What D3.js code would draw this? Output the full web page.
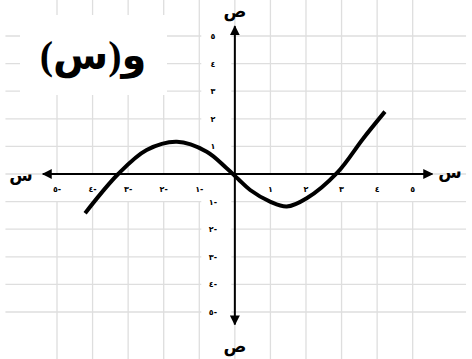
<!DOCTYPE html>
<html>
<head>
<meta charset="utf-8">
<script src="https://cdn.jsdelivr.net/npm/d3@7"></script>
<style>
  body { margin: 0; background: #fff; }
</style>
</head>
<body>
<div id="chart"></div>
<script>
// grid and tick values (-5..5 on both axes)
const gridValues = [-5, -4, -3, -2, -1, 0, 1, 2, 3, 4, 5];
const xTicks = [-5, -4, -3, -2, -1, 1, 2, 3, 4, 5];
const xTickLabels = ["٥-", "٤-", "٣-", "٢-", "١-", "١", "٢", "٣", "٤", "٥"];
const yTicks = [5, 4, 3, 2, 1, -1, -2, -3, -4, -5];
const yTickLabels = ["٥", "٤", "٣", "٢", "١", "١-", "٢-", "٣-", "٤-", "٥-"];

// curve points
const curveX = [-4.21, -3.28, -2.48, -1.63, -0.79, -0.23, 0.1, 0.43, 0.99, 1.46, 2.02, 2.88, 3.61, 4.22];
const curveY = [-1.42, 0.0, 0.87, 1.17, 0.81, 0.21, -0.19, -0.58, -1.0, -1.18, -0.88, 0.05, 1.29, 2.26];

const title = "و(س)";
const xName = "س";
const yName = "ص";

const width = 472, height = 359;

const svg = d3.select("#chart")
  .append("svg")
  .attr("width", width)
  .attr("height", height);

// scales: one grid square is ~35.6px wide and ~27.6px tall
const x = d3.scaleLinear().domain([-5, 5]).range([57, 412.7]);
const y = d3.scaleLinear().domain([-5, 5]).range([312, 36]);

// arrow head marker
svg.append("defs").append("marker")
  .attr("id", "arrow")
  .attr("viewBox", "0 0 10 10")
  .attr("refX", 9)
  .attr("refY", 5)
  .attr("markerWidth", 5)
  .attr("markerHeight", 5)
  .attr("markerUnits", "strokeWidth")
  .attr("orient", "auto-start-reverse")
  .append("path")
  .attr("d", "M0,0 L10,5 L0,10 z")
  .attr("fill", "#000");

// grid
const grid = svg.append("g").attr("stroke", "#dedede").attr("stroke-width", 1.3);
grid.selectAll("line.v")
  .data(gridValues)
  .enter().append("line")
  .attr("class", "v")
  .attr("x1", d => x(d)).attr("x2", d => x(d))
  .attr("y1", 0).attr("y2", height);
grid.selectAll("line.h")
  .data(gridValues)
  .enter().append("line")
  .attr("class", "h")
  .attr("x1", x(-6.45)).attr("x2", x(6.5))
  .attr("y1", d => y(d)).attr("y2", d => y(d));

// white patches behind the title and the tick labels
svg.append("rect")
  .attr("x", 20).attr("y", 15)
  .attr("width", 147).attr("height", 80)
  .attr("fill", "#fff");
svg.append("rect")
  .attr("x", x(-1) + 2).attr("y", 0)
  .attr("width", 30).attr("height", height)
  .attr("fill", "#fff");
svg.append("rect")
  .attr("x", 0).attr("y", y(0) + 1)
  .attr("width", width).attr("height", 26)
  .attr("fill", "#fff");

// axes with arrows at both ends
svg.append("line")
  .attr("x1", x(-5.4)).attr("x2", x(5.55))
  .attr("y1", y(0)).attr("y2", y(0))
  .attr("stroke", "#000").attr("stroke-width", 2)
  .attr("marker-start", "url(#arrow)")
  .attr("marker-end", "url(#arrow)");
svg.append("line")
  .attr("x1", x(0)).attr("x2", x(0))
  .attr("y1", y(5.35)).attr("y2", y(-5.45))
  .attr("stroke", "#000").attr("stroke-width", 2)
  .attr("marker-start", "url(#arrow)")
  .attr("marker-end", "url(#arrow)");

// tick labels
svg.selectAll("text.xt")
  .data(xTicks)
  .enter().append("text")
  .attr("class", "xt")
  .attr("x", d => x(d))
  .attr("y", y(0) + 18)
  .attr("text-anchor", "middle")
  .attr("font-family", "DejaVu Sans")
  .attr("font-size", 8)
  .attr("font-weight", "bold")
  .text((d, i) => xTickLabels[i]);

svg.selectAll("text.yt")
  .data(yTicks)
  .enter().append("text")
  .attr("class", "yt")
  .attr("x", x(0) - 22)
  .attr("y", d => y(d) + 3)
  .attr("text-anchor", "middle")
  .attr("font-family", "DejaVu Sans")
  .attr("font-size", 8)
  .attr("font-weight", "bold")
  .text((d, i) => yTickLabels[i]);

// axis names
const names = [
  { t: xName, x: 21, y: 181 },
  { t: xName, x: 450, y: 178 },
  { t: yName, x: x(0), y: 17 },
  { t: yName, x: x(0), y: 352 }
];
svg.selectAll("text.name")
  .data(names)
  .enter().append("text")
  .attr("class", "name")
  .attr("x", d => d.x)
  .attr("y", d => d.y)
  .attr("text-anchor", "middle")
  .attr("font-family", "DejaVu Sans")
  .attr("font-size", 17)
  .attr("font-weight", "bold")
  .text(d => d.t);

// the curve
const points = curveX.map((v, i) => [v, curveY[i]]);
const line = d3.line()
  .x(d => x(d[0]))
  .y(d => y(d[1]))
  .curve(d3.curveCatmullRom);

svg.append("path")
  .datum(points)
  .attr("fill", "none")
  .attr("stroke", "#000")
  .attr("stroke-width", 4)
  .attr("d", line);

// title: a trailing RLM keeps the whole string right-to-left
svg.append("text")
  .attr("x", 93)
  .attr("y", 69)
  .attr("text-anchor", "middle")
  .attr("font-family", "Liberation Serif, DejaVu Sans")
  .attr("font-size", 40)
  .attr("font-weight", "bold")
  .text(title + "\u200F");
</script>
</body>
</html>
